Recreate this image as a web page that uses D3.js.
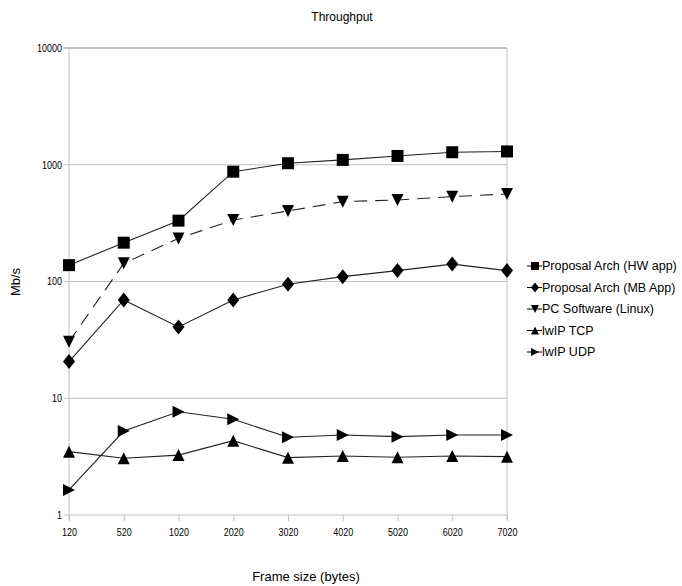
<!DOCTYPE html>
<html>
<head>
<meta charset="utf-8">
<script src="https://cdn.jsdelivr.net/npm/d3@7"></script>
<style>
  body { margin: 0; background: #fff; }
  text { font-family: "Liberation Sans", Arial, sans-serif; fill: #000; }
  .tick-label { font-size: 11px; }
</style>
</head>
<body>
<div id="chart"></div>
<script>
var frameSizes = ["120", "520", "1020", "2020", "3020", "4020", "5020", "6020", "7020"];
var yTicks = [1, 10, 100, 1000, 10000];

var hwApp    = [138, 215, 332, 872, 1030, 1100, 1190, 1280, 1300];
var mbApp    = [20.6, 69.5, 40.8, 69.5, 94.7, 110, 124, 141, 124];
var pcLinux  = [30.5, 143, 234, 336, 402, 483, 499, 533, 562];
var lwipTcp  = [3.49, 3.06, 3.26, 4.33, 3.10, 3.20, 3.12, 3.20, 3.16];
var lwipUdp  = [1.64, 5.24, 7.67, 6.60, 4.63, 4.84, 4.69, 4.84, 4.84];

var seriesNames = ["Proposal Arch (HW app)", "Proposal Arch (MB App)", "PC Software (Linux)", "lwIP TCP", "lwIP UDP"];
var seriesValues = [hwApp, mbApp, pcLinux, lwipTcp, lwipUdp];
var seriesShapes = ["square", "diamond", "down", "up", "right"];
var seriesDash = [null, null, "13,8", null, null];

var width = 682, height = 586;
var plotLeft = 69, plotRight = 507, plotTop = 48, plotBottom = 515;

var svg = d3.select("#chart").append("svg")
    .attr("width", width)
    .attr("height", height);

var x = d3.scalePoint().domain(frameSizes).range([plotLeft, plotRight]);
var y = d3.scaleLog().domain([1, 10000]).range([plotBottom, plotTop]);

// marker path centred on 0,0
function shapePath(kind, s) {
    var h = s / 2;
    if (kind === "square") return "M" + -h + "," + -h + "H" + h + "V" + h + "H" + -h + "Z";
    if (kind === "diamond") return "M0," + (-h * 1.25) + "L" + h + ",0L0," + (h * 1.25) + "L" + -h + ",0Z";
    if (kind === "down") return "M" + -h + "," + -h + "H" + h + "L0," + h + "Z";
    if (kind === "up") return "M" + -h + "," + h + "H" + h + "L0," + -h + "Z";
    if (kind === "right") return "M" + -h + "," + -h + "L" + h + ",0L" + -h + "," + h + "Z";
}

// narrow digits like the original
function squeeze(sel) {
    sel.attr("textLength", function () { return this.textContent.length * 5; })
        .attr("lengthAdjust", "spacingAndGlyphs");
}

// grid lines
svg.append("g").selectAll("line")
    .data(yTicks)
    .enter().append("line")
    .attr("x1", plotLeft - 5).attr("x2", plotRight)
    .attr("y1", function (d) { return y(d); })
    .attr("y2", function (d) { return y(d); })
    .style("stroke", "#c0c0c0")
    .style("stroke-width", function (d) { return d === 10000 ? 2 : 1; });

// frame
svg.append("line").attr("x1", plotLeft).attr("x2", plotLeft).attr("y1", plotTop).attr("y2", plotBottom + 5)
    .style("stroke", "#c0c0c0");
svg.append("line").attr("x1", plotRight).attr("x2", plotRight).attr("y1", plotTop).attr("y2", plotBottom + 5)
    .style("stroke", "#c0c0c0");

// x axis
var xAxis = d3.axisBottom(x).tickSize(6).tickPadding(7);
var gx = svg.append("g").attr("transform", "translate(0," + plotBottom + ")").call(xAxis);
gx.attr("font-family", null).attr("font-size", null);
gx.select(".domain").remove();
gx.selectAll(".tick line").style("stroke", "#c0c0c0");
gx.selectAll(".tick text").attr("class", "tick-label").attr("fill", null).call(squeeze);

// y axis labels
svg.append("g").selectAll("text")
    .data(yTicks)
    .enter().append("text")
    .attr("class", "tick-label")
    .attr("x", plotLeft - 7)
    .attr("y", function (d) { return y(d); })
    .attr("dy", "0.35em")
    .attr("text-anchor", "end")
    .text(function (d) { return d; })
    .call(squeeze);

// series
var line = d3.line()
    .x(function (d, i) { return x(frameSizes[i]); })
    .y(function (d) { return y(d); });

seriesValues.forEach(function (vals, k) {
    svg.append("path")
        .datum(vals)
        .attr("d", line)
        .style("fill", "none")
        .style("stroke", "#222")
        .style("stroke-width", 1.1)
        .style("stroke-dasharray", seriesDash[k]);

    svg.append("g").selectAll("path")
        .data(vals)
        .enter().append("path")
        .attr("d", shapePath(seriesShapes[k], 12))
        .attr("transform", function (d, i) { return "translate(" + x(frameSizes[i]) + "," + y(d) + ")"; })
        .style("fill", "#000");
});

// legend
var legend = svg.append("g").selectAll("g")
    .data(seriesNames)
    .enter().append("g")
    .attr("transform", function (d, i) { return "translate(535," + (266 + i * 21.5) + ")"; });

legend.append("line")
    .attr("x1", -8).attr("x2", 7)
    .style("stroke", "#000");
legend.append("path")
    .attr("d", function (d, i) { return shapePath(seriesShapes[i], 8); })
    .style("fill", "#000");
legend.append("text")
    .attr("x", 7)
    .attr("dy", "0.35em")
    .style("font-size", "12.5px")
    .text(function (d) { return d; });

// titles
svg.append("text")
    .attr("x", 342).attr("y", 21)
    .attr("text-anchor", "middle")
    .style("font-size", "12px")
    .text("Throughput");

svg.append("text")
    .attr("x", 306).attr("y", 581)
    .attr("text-anchor", "middle")
    .style("font-size", "13px")
    .text("Frame size (bytes)");

svg.append("text")
    .attr("transform", "translate(20,282) rotate(-90)")
    .attr("text-anchor", "middle")
    .style("font-size", "13px")
    .text("Mb/s");
</script>
</body>
</html>
